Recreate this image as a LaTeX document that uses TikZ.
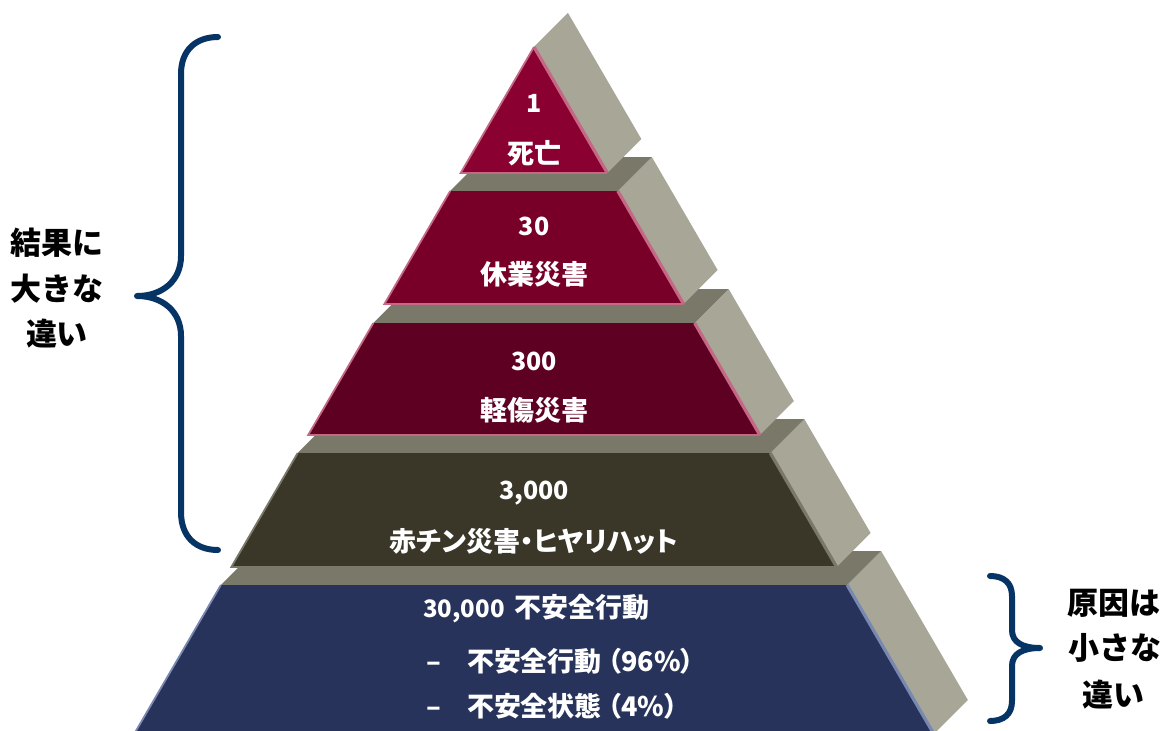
\documentclass[tikz,border=0pt]{standalone}
\usepackage{fontspec}
\newfontfamily\jp[RawFeature=+palt]{Noto Sans CJK JP}
\newfontfamily\jpl{Noto Sans CJK JP}
\usetikzlibrary{calc}
\definecolor{sidegray}{RGB}{168,166,150}
\definecolor{topgray}{RGB}{122,120,104}
\definecolor{fillA}{RGB}{138,0,48}
\definecolor{fillB}{RGB}{120,0,40}
\definecolor{fillC}{RGB}{94,0,34}
\definecolor{fillD}{RGB}{58,55,41}
\definecolor{fillE}{RGB}{39,51,90}
\definecolor{edgeRed}{RGB}{196,104,134}
\definecolor{edgeOlive}{RGB}{122,120,104}
\definecolor{edgeNavy}{RGB}{120,136,176}
\definecolor{braceblue}{RGB}{6,52,100}
\newcommand\pyrtier[5]{% ytop ybot fill edge name
  \pgfmathsetmacro\hwT{0.582*(#1-47)}
  \pgfmathsetmacro\hwB{0.582*(#2-47)}
  \coordinate (#5tl) at ({534-\hwT},#1);
  \coordinate (#5tr) at ({534+\hwT},#1);
  \coordinate (#5bl) at ({534-\hwB},#2);
  \coordinate (#5br) at ({534+\hwB},#2);
  \fill[sidegray] (#5tr) -- ($(#5tr)+(34,-34)$) -- ($(#5br)+(34,-34)$) -- (#5br) -- cycle;
  \fill[topgray] (#5tl) -- (#5tr) -- ($(#5tr)+(34,-34)$) -- ($(#5tl)+(34,-34)$) -- cycle;
  \fill[#3] (#5tl) -- (#5tr) -- (#5br) -- (#5bl) -- cycle;
  \draw[#4, line width=1.8] (#5tl) -- (#5bl) -- (#5br);
  \draw[#4, line width=3.2] (#5br) -- (#5tr);
}
\begin{document}
\begin{tikzpicture}[x=1pt,y=-1pt,
  jtxt/.style={inner sep=0pt, text=white, font=\jp\bfseries\fontsize{27}{27}\selectfont},
  num/.style={inner sep=0pt, text=white, font=\jp\bfseries\fontsize{25}{25}\selectfont},
  lbl/.style={inner sep=0pt, text=black, font=\jpl\bfseries\fontsize{31}{31}\selectfont},
  brace/.style={draw=braceblue, line width=6pt, line cap=round, line join=round}]
\useasboundingbox (0,0) rectangle (1163,731);
\fill[white] (0,0) rectangle (1163,731);

\pyrtier{585}{734}{fillE}{edgeNavy}{e}
\pyrtier{453}{567}{fillD}{edgeOlive}{d}
\pyrtier{323}{435}{fillC}{edgeRed}{c}
\pyrtier{191}{304}{fillB}{edgeRed}{b}
\pyrtier{47}{173}{fillA}{edgeRed}{a}

\node[num]  (n1) at (534,103) {1};
\node[jtxt] (t1) at (534,153) {死亡};
\node[num]  (n2) at (534,226) {30};
\node[jtxt] (t2) at (534,274) {休業災害};
\node[num]  (n3) at (534,361) {300};
\node[jtxt] (t3) at (534,410) {軽傷災害};
\node[num]  (n4) at (534,493) {3,000};
\node[jtxt] (t4) at (534,541) {赤チン災害・ヒヤリハット};
\node[jtxt, anchor=west] (t5a) at (423,609) {{\fontsize{24}{24}\selectfont 30,000}\hspace{10pt}不安全行動};
\node[jtxt, anchor=west] (t5b) at (426,661) {–\hspace{26pt}不安全行動\hspace{6pt}（96\%）};
\node[jtxt, anchor=west] (t5c) at (426,706) {–\hspace{26pt}不安全状態\hspace{6pt}（4\%）};

\draw[brace] (218,37) .. controls (196,37) and (181,50) .. (181,74) -- (181,256)
  .. controls (181,281) and (162,296) .. (137,296)
  .. controls (162,296) and (181,311) .. (181,336) -- (181,512)
  .. controls (181,537) and (196,550) .. (218,550);
\draw[brace] (990,576) .. controls (1004,576) and (1012,583) .. (1012,596) -- (1012,630)
  .. controls (1012,642) and (1022,648) .. (1040,648)
  .. controls (1022,648) and (1012,654) .. (1012,666) -- (1012,701)
  .. controls (1012,714) and (1004,721) .. (990,721);

\node[lbl] (l1) at (57,243) {結果に};
\node[lbl] (l2) at (57,289) {大きな};
\node[lbl] (l3) at (57,334) {違い};
\node[lbl] (r1) at (1114,603) {原因は};
\node[lbl] (r2) at (1115,648) {小さな};
\node[lbl] (r3) at (1113,695) {違い};
\end{tikzpicture}
\end{document}
